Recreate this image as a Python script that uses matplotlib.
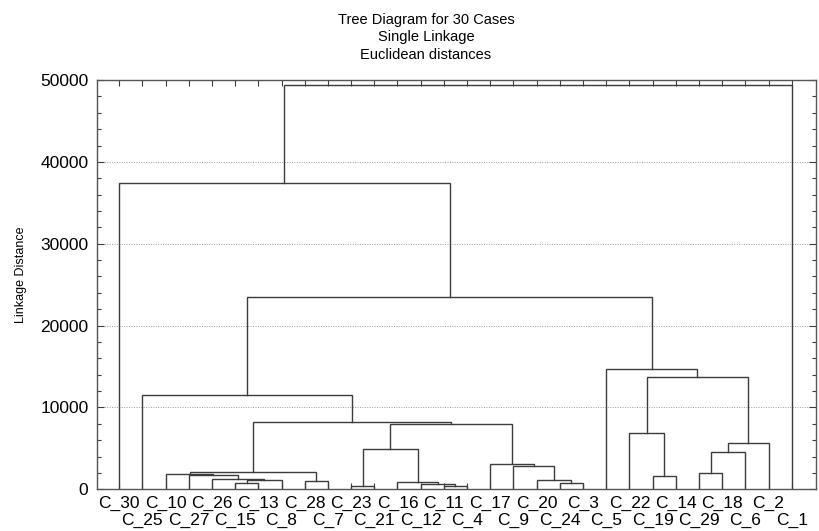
import numpy as np
import matplotlib
matplotlib.use('Agg')
import matplotlib.pyplot as plt
from matplotlib.ticker import MultipleLocator

plt.rcParams['font.family'] = ['Liberation Sans', 'DejaVu Sans']

# leaf order along the x axis
leaves = ['C_30', 'C_25', 'C_10', 'C_27', 'C_26', 'C_15', 'C_13', 'C_8', 'C_28', 'C_7',
          'C_23', 'C_21', 'C_16', 'C_12', 'C_11', 'C_4', 'C_17', 'C_9', 'C_20', 'C_24',
          'C_3', 'C_5', 'C_22', 'C_19', 'C_14', 'C_29', 'C_18', 'C_6', 'C_2', 'C_1']

# merge steps: 'mK' refers to the cluster made by merge number K (1-based)
merge_left = ['C_23', 'C_11', 'C_12', 'C_24', 'C_15', 'C_16', 'C_28', 'C_20', 'm5', 'C_26',
              'C_19', 'C_27', 'C_10', 'C_29', 'm13', 'C_9', 'C_17', 'm14', 'm1', 'm18',
              'C_22', 'm19', 'm15', 'C_25', 'm21', 'C_5', 'm24', 'C_30', 'm28']
merge_right = ['C_21', 'C_4', 'm2', 'C_3', 'C_13', 'm3', 'C_7', 'm4', 'C_8', 'm9',
               'C_14', 'm10', 'm12', 'C_18', 'm7', 'm8', 'm16', 'C_6', 'm6', 'C_2',
               'm11', 'm17', 'm22', 'm23', 'm20', 'm25', 'm26', 'm27', 'C_1']
merge_height = [350, 440, 690, 730, 830, 850, 990, 1090, 1090, 1240,
                1620, 1700, 1900, 1950, 2150, 2880, 3090, 4590, 4870, 5600,
                6900, 7960, 8170, 11540, 13730, 14670, 23440, 37400, 49400]

title_lines = ['Tree Diagram for 30 Cases', 'Single Linkage', 'Euclidean distances']

line_color = '#3c3c3c'

fig = plt.figure(figsize=(8.19, 5.31), dpi=100)
ax = fig.add_axes([0.1181, 0.0785, 0.8783, 0.7708])

# x position and height of every node
nodes = {name: (float(i), 0.0) for i, name in enumerate(leaves)}
for k, (a, b, h) in enumerate(zip(merge_left, merge_right, merge_height), start=1):
    xa, ha = nodes[a]
    xb, hb = nodes[b]
    ax.plot([xa, xa, xb, xb], [ha, h, h, hb], color=line_color, lw=1.0,
            solid_joinstyle='miter', zorder=3)
    nodes['m%d' % k] = ((xa + xb) / 2, h)

ax.set_xlim(-0.97, 30.05)
ax.set_ylim(0, 50000)

# leaf labels in two staggered rows
ax.set_xticks(range(len(leaves)))
ax.set_xticklabels(leaves, fontsize=12.5)
ax.tick_params(axis='x', direction='in', top=True, bottom=True, length=4,
               width=0.8, color=line_color, pad=4.6)
for i, tick in enumerate(ax.xaxis.get_major_ticks()):
    if i % 2 == 1:
        tick.set_pad(17.2)

ax.yaxis.set_major_locator(MultipleLocator(10000))
ax.yaxis.set_minor_locator(MultipleLocator(2000))
ax.tick_params(axis='y', which='both', direction='in', left=True, right=True,
               color=line_color, width=0.8, labelsize=12.5, pad=6)
ax.tick_params(axis='y', which='major', length=5)
ax.tick_params(axis='y', which='minor', length=3)

ax.grid(axis='y', which='major', linestyle=(0, (1, 1.5)), color='#9a9a9a', lw=0.7)
ax.set_axisbelow(True)

for sp in ax.spines.values():
    sp.set_color('#555555')
    sp.set_linewidth(1.0)

ax.set_ylabel('Linkage Distance', fontsize=9)
ax.yaxis.set_label_coords(-0.097, 0.524)

for j, line in enumerate(title_lines):
    fig.text(0.52, 1 - (20 + 17.5 * j) / 531, line, ha='center', va='center',
             fontsize=10.5, family=['Liberation Sans Narrow', 'Liberation Sans', 'DejaVu Sans'])

fig.savefig('out.png', dpi=100)
